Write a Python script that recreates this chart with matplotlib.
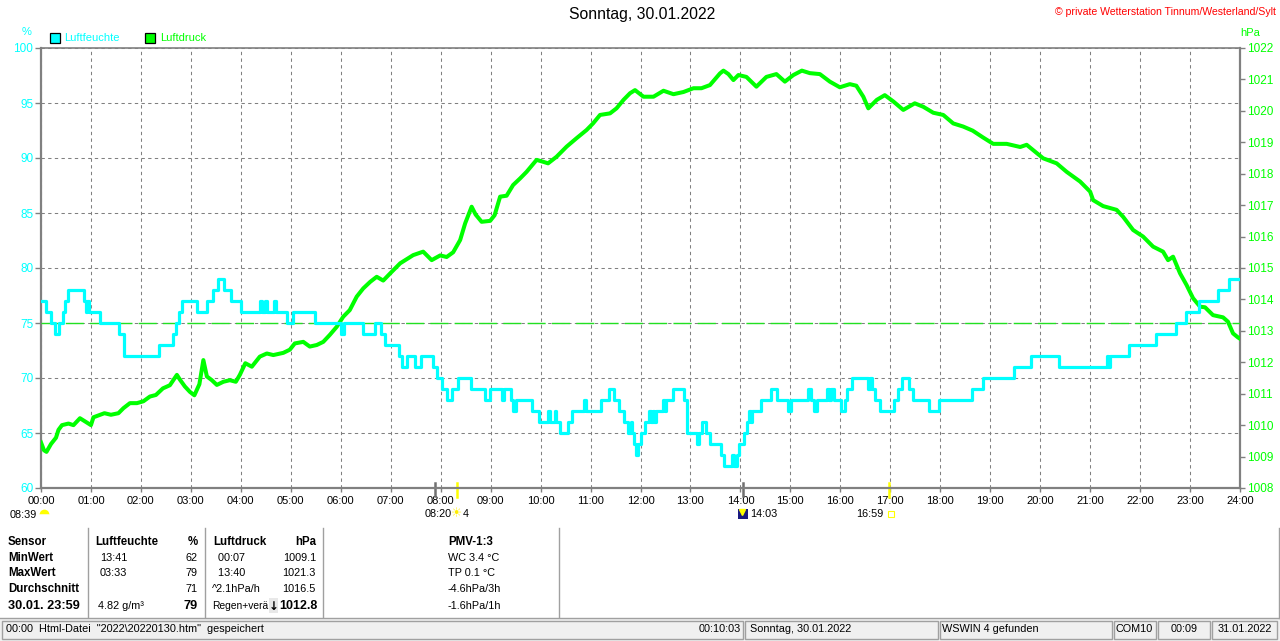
import matplotlib
matplotlib.use("Agg")
import matplotlib.pyplot as plt
from matplotlib.lines import Line2D
from matplotlib.patches import Rectangle

plt.rcParams["font.family"] = ["Liberation Sans", "DejaVu Sans"]

# ---- data ----
hum_hours = [0.00, 0.11, 0.21, 0.28, 0.36, 0.44, 0.48, 0.55, 0.86, 0.90, 0.93, 0.97,
             1.18, 1.57, 1.67, 2.36, 2.65, 2.70, 2.76, 2.82, 3.13, 3.32, 3.44, 3.54,
             3.66, 3.81, 4.01, 4.38, 4.43, 4.48, 4.52, 4.66, 4.70, 4.93, 5.04, 5.48,
             6.00, 6.06, 6.44, 6.68, 6.80, 6.88, 7.17, 7.23, 7.33, 7.48, 7.60, 7.84,
             7.92, 8.03, 8.12, 8.22, 8.34, 8.60, 8.88, 8.98, 9.23, 9.27, 9.40, 9.45,
             9.50, 9.83, 9.96, 10.14, 10.18, 10.28, 10.31, 10.38, 10.55, 10.62, 10.86,
             10.91, 11.20, 11.37, 11.47, 11.56, 11.67, 11.74, 11.80, 11.83, 11.87,
             11.90, 11.95, 12.02, 12.10, 12.17, 12.21, 12.25, 12.28, 12.31, 12.46,
             12.49, 12.51, 12.66, 12.88, 12.93, 13.14, 13.17, 13.24, 13.32, 13.40,
             13.62, 13.67, 13.84, 13.87, 13.93, 13.98, 14.08, 14.14, 14.18, 14.21,
             14.24, 14.42, 14.61, 14.74, 14.96, 15.01, 15.36, 15.42, 15.48, 15.53,
             15.74, 15.78, 15.82, 15.87, 16.02, 16.10, 16.14, 16.23, 16.55, 16.59,
             16.64, 16.70, 16.80, 17.08, 17.16, 17.23, 17.38, 17.46, 17.78, 17.97,
             18.64, 18.85, 19.48, 19.82, 20.38, 21.33, 21.36, 21.40, 21.78, 22.31,
             22.72, 22.92, 23.18, 23.55, 23.78, 24.00]
hum_values = [77, 76, 75, 74, 75, 76, 77, 78, 77, 76, 77, 76,
              75, 74, 72, 73, 74, 75, 76, 77, 76, 77, 78, 79,
              78, 77, 76, 77, 76, 77, 76, 77, 76, 75, 76, 75,
              74, 75, 74, 75, 74, 73, 72, 71, 72, 71, 72, 71,
              70, 69, 68, 69, 70, 69, 68, 69, 68, 69, 68, 67,
              68, 67, 66, 67, 66, 67, 66, 65, 66, 67, 68,
              67, 68, 69, 68, 67, 66, 65, 66, 65, 64,
              63, 64, 65, 66, 67, 66, 67, 66, 67, 68,
              67, 68, 69, 68, 65, 64, 65, 66, 65, 64,
              63, 62, 63, 62, 63, 64, 65, 66, 67, 66,
              67, 68, 69, 68, 67, 68, 69, 68, 67, 68,
              69, 68, 69, 68, 67, 68, 69, 70, 69, 70,
              69, 68, 67, 68, 69, 70, 69, 68, 67, 68,
              69, 70, 71, 72, 71, 72, 71, 72, 73, 74,
              75, 76, 77, 78, 79, 79]

pres_hours = [0.00, 0.06, 0.11, 0.20, 0.30, 0.35, 0.42, 0.55, 0.65, 0.78, 0.90, 1.00,
              1.05, 1.27, 1.40, 1.55, 1.65, 1.78, 1.92, 2.05, 2.18, 2.30, 2.44, 2.58,
              2.72, 2.78, 2.88, 2.98, 3.07, 3.17, 3.25, 3.32, 3.42, 3.52, 3.65, 3.78,
              3.90, 3.98, 4.09, 4.22, 4.38, 4.52, 4.65, 4.85, 4.98, 5.08, 5.25, 5.38,
              5.52, 5.65, 5.78, 5.92, 6.05, 6.18, 6.32, 6.45, 6.59, 6.72, 6.85, 6.99,
              7.19, 7.45, 7.65, 7.82, 7.99, 8.12, 8.25, 8.39, 8.49, 8.62, 8.70, 8.82,
              8.99, 9.08, 9.19, 9.32, 9.45, 9.59, 9.72, 9.92, 10.05, 10.15, 10.32,
              10.52, 10.72, 10.92, 11.05, 11.19, 11.39, 11.52, 11.66, 11.79, 11.89,
              12.06, 12.26, 12.46, 12.66, 12.86, 13.06, 13.22, 13.39, 13.59, 13.66,
              13.76, 13.86, 13.96, 14.12, 14.32, 14.52, 14.72, 14.89, 15.06, 15.23,
              15.39, 15.59, 15.79, 15.99, 16.19, 16.32, 16.46, 16.56, 16.73, 16.89,
              17.06, 17.26, 17.49, 17.66, 17.86, 18.06, 18.26, 18.46, 18.65, 18.85,
              19.06, 19.33, 19.60, 19.73, 19.86, 20.06, 20.33, 20.53, 20.80, 21.00,
              21.06, 21.26, 21.53, 21.66, 21.86, 22.06, 22.26, 22.46, 22.56, 22.66,
              22.80, 22.93, 23.06, 23.20, 23.30, 23.46, 23.66, 23.76, 23.86, 23.96,
              24.00]
pres_values = [1009.45, 1009.2, 1009.15, 1009.4, 1009.6, 1009.85, 1010.0, 1010.05,
               1010.0, 1010.22, 1010.1, 1010.0, 1010.25, 1010.38, 1010.33, 1010.38,
               1010.54, 1010.7, 1010.7, 1010.76, 1010.91, 1010.96, 1011.17, 1011.27,
               1011.6, 1011.45, 1011.23, 1011.06, 1010.95, 1011.3, 1012.07, 1011.55,
               1011.43, 1011.28, 1011.38, 1011.43, 1011.38, 1011.6, 1011.97, 1011.86,
               1012.18, 1012.28, 1012.23, 1012.3, 1012.4, 1012.6, 1012.65, 1012.5,
               1012.55, 1012.65, 1012.87, 1013.13, 1013.45, 1013.66, 1014.09, 1014.35,
               1014.56, 1014.72, 1014.6, 1014.83, 1015.15, 1015.41, 1015.52, 1015.25,
               1015.4, 1015.35, 1015.5, 1015.89, 1016.42, 1016.95, 1016.7, 1016.47,
               1016.5, 1016.68, 1017.27, 1017.3, 1017.64, 1017.85, 1018.06, 1018.44,
               1018.38, 1018.33, 1018.54, 1018.86, 1019.13, 1019.39, 1019.6, 1019.87,
               1019.92, 1020.08, 1020.35, 1020.56, 1020.66, 1020.45, 1020.45, 1020.64,
               1020.53, 1020.6, 1020.72, 1020.72, 1020.82, 1021.19, 1021.28, 1021.17,
               1020.98, 1021.14, 1021.08, 1020.77, 1021.08, 1021.17, 1020.93, 1021.14,
               1021.28, 1021.2, 1021.17, 1020.93, 1020.75, 1020.85, 1020.8, 1020.45,
               1020.08, 1020.35, 1020.5, 1020.3, 1020.03, 1020.24, 1020.13, 1019.94,
               1019.87, 1019.6, 1019.5, 1019.37, 1019.16, 1018.95, 1018.95, 1018.85,
               1018.92, 1018.75, 1018.49, 1018.33, 1018.06, 1017.75, 1017.43, 1017.16,
               1016.97, 1016.85, 1016.63, 1016.21, 1016.0, 1015.68, 1015.52, 1015.25,
               1015.36, 1014.83, 1014.46, 1014.04, 1013.77, 1013.75, 1013.5, 1013.43,
               1013.29, 1012.92, 1012.79, 1012.75]

normal_pressure = 1013.25
hour_ticks = list(range(25))
hour_labels = [f"{h:02d}:00" for h in hour_ticks]
hum_ticks = [60, 65, 70, 75, 80, 85, 90, 95, 100]
pres_ticks = list(range(1008, 1023))

sun_marks = [8.33, 16.98]   # sunrise / sunset
moon_marks = [7.88, 14.05]

CYAN = "#00ffff"
GREEN = "#00ff00"
GRAY = "#808080"

W, H = 1280, 641


def fx(x):
    return x / W


def fy(y):
    return 1 - y / H


fig = plt.figure(figsize=(W / 100, H / 100), dpi=100)
ax = fig.add_axes([fx(41), fy(488), (1240 - 41) / W, 440 / H])
axp = ax.twinx()
axh = ax.twinx()

# grid / frame on the base axes
ax.set_xlim(0, 24)
ax.set_ylim(60, 100)
ax.set_xticks(hour_ticks)
ax.set_xticklabels(hour_labels)
ax.set_yticks(hum_ticks)
ax.grid(True, color=GRAY, linestyle=(0, (3.2, 3.2)), linewidth=0.75)
for sp in ax.spines.values():
    sp.set_color(GRAY)
    sp.set_linewidth(1.6)
ax.spines["top"].set_linewidth(1.2)
ax.tick_params(axis="x", length=3, width=1, color=GRAY, labelsize=8, pad=3)
ax.tick_params(axis="y", length=4.5, width=1, color=GRAY, labelsize=8.5,
               labelcolor=CYAN, pad=1)

# pressure
axp.set_ylim(1008, 1022)
axp.set_yticks(pres_ticks)
axp.tick_params(axis="y", length=3.5, width=1, color=GRAY, labelsize=8.5,
                labelcolor=GREEN, pad=1.5)
axp.axhline(normal_pressure, color="#22e022", linewidth=1.0, dashes=(13, 4.5))
axp.plot(pres_hours, pres_values, color=GREEN, linewidth=2.9,
         solid_joinstyle="round")

# humidity on top
axh.set_ylim(60, 100)
axh.yaxis.set_visible(False)
axh.step(hum_hours, hum_values, where="post", color=CYAN, linewidth=2.3)

for a in (axp, axh):
    a.patch.set_visible(False)
    for sp in a.spines.values():
        sp.set_visible(False)

# sunrise / sunset and moon ticks below the axis
for h in moon_marks:
    ax.plot([h, h], [0.012, -0.018], transform=ax.get_xaxis_transform(),
            color="#707070", linewidth=1.8, clip_on=False)
for h in sun_marks:
    ax.plot([h, h], [0.012, -0.02], transform=ax.get_xaxis_transform(),
            color="#ffff00", linewidth=1.8, clip_on=False)


def txt(x, y, s, **kw):
    kw.setdefault("va", "center")
    kw.setdefault("fontsize", 7.8)
    fig.text(fx(x), fy(y), s, **kw)


def mark(x, y, **kw):
    fig.add_artist(Line2D([fx(x)], [fy(y)], linestyle="none", **kw))


def box(x0, y0, x1, y1, **kw):
    fig.add_artist(Rectangle((fx(x0), fy(y1)), (x1 - x0) / W, (y1 - y0) / H,
                             transform=fig.transFigure, **kw))


def vline(x, y0, y1, **kw):
    fig.add_artist(Line2D([fx(x), fx(x)], [fy(y0), fy(y1)], **kw))


# header
txt(642, 15, "Sonntag, 30.01.2022", ha="center", fontsize=11.3)
txt(1276, 12, "\u00a9 private Wetterstation Tinnum/Westerland/Sylt", ha="right",
    fontsize=7.6, color="#ff0000")
txt(27, 32, "%", ha="center", fontsize=8, color=CYAN)
txt(1240, 33, "hPa", ha="left", fontsize=8, color=GREEN)

box(50, 33, 60, 43, facecolor=CYAN, edgecolor="black", linewidth=0.9)
txt(64, 38, "Luftfeuchte", color=CYAN, fontsize=8)
box(145, 33, 155, 43, facecolor=GREEN, edgecolor="black", linewidth=0.9)
txt(160, 38, "Luftdruck", color=GREEN, fontsize=8)

# sun / moon times under the x axis
txt(37, 515, "08:39", ha="right")
mark(44, 514, marker="o", markersize=7, fillstyle="top",
     markerfacecolor="#ffff00", markerfacecoloralt="white",
     markeredgecolor="none")
txt(452, 514, "08:20", ha="right")
txt(457, 514, "\u2600", ha="center", fontsize=9, color="#ffee00",
    family=["DejaVu Sans"])
txt(463, 514, "4")
box(738, 509, 748, 519, facecolor="#1a1a80", edgecolor="none")
mark(742, 512, marker="v", markersize=4, color="#ffff00")
txt(750, 514, "14:03")
txt(883, 514, "16:59", ha="right")
mark(891, 514, marker="s", markersize=4, markerfacecolor="none",
     markeredgecolor="#ffff00", markeredgewidth=0.8)

# statistics table
rows_y = [542, 558, 573, 589, 606]
sensor_col = ["Sensor", "MinWert", "MaxWert", "Durchschnitt"]
for yy, s in zip(rows_y, sensor_col):
    txt(8, yy, s, fontweight="bold", fontsize=8.3)
txt(8, rows_y[4], "30.01. 23:59", fontweight="bold", fontsize=9.2)

txt(95, rows_y[0], "Luftfeuchte", fontweight="bold", fontsize=8.3)
txt(198, rows_y[0], "%", ha="right", fontweight="bold", fontsize=8.3)
hum_time = ["13:41", "03:33", ""]
hum_stat = ["62", "79", "71"]
for yy, t, v in zip(rows_y[1:4], hum_time, hum_stat):
    txt(100, yy, t)
    txt(198, yy, v, ha="right")
txt(98, rows_y[4], "4.82 g/m\u00b3")
txt(198, rows_y[4], "79", ha="right", fontweight="bold", fontsize=9.2)

txt(213, rows_y[0], "Luftdruck", fontweight="bold", fontsize=8.3)
txt(316, rows_y[0], "hPa", ha="right", fontweight="bold", fontsize=8.3)
pres_time = ["  00:07", "  13:40", "^2.1hPa/h"]
pres_stat = ["1009.1", "1021.3", "1016.5"]
for yy, t, v in zip(rows_y[1:4], pres_time, pres_stat):
    txt(212, yy, t)
    txt(316, yy, v, ha="right")
txt(212, rows_y[4], "Regen+ver\u00e4", fontsize=7.4)
box(269, 598, 278, 613, facecolor="#e8e8e8", edgecolor="none")
txt(274, rows_y[4], "\u2193", ha="center", fontweight="bold", fontsize=8.5,
    family=["DejaVu Sans"])
txt(317, rows_y[4], "1012.8", ha="right", fontweight="bold", fontsize=9.0)

txt(448, rows_y[0], "PMV-1:3", fontweight="bold", fontsize=8.3)
pmv_lines = ["WC 3.4 \u00b0C", "TP 0.1 \u00b0C", "-4.6hPa/3h", "-1.6hPa/1h"]
for yy, s in zip(rows_y[1:], pmv_lines):
    txt(448, yy, s)

for xx in (88, 205, 323, 559):
    vline(xx, 528, 617, color="#a0a0a0", linewidth=1)
vline(1279, 528, 618, color="#a0a0a0", linewidth=1)

# status bar
box(0, 618, 1280, 641, facecolor="#f0f0f0", edgecolor="none")
fig.add_artist(Line2D([0, 1], [fy(618), fy(618)], color="#a0a0a0", linewidth=1))
panels = [(2, 743), (745, 938), (940, 1112), (1114, 1156), (1158, 1210), (1212, 1277)]
for x0, x1 in panels:
    box(x0, 621, x1, 639, facecolor="#f0f0f0", edgecolor="#a0a0a0", linewidth=1)
txt(6, 629, "00:00  Html-Datei  \"2022\\20220130.htm\"  gespeichert")
txt(741, 629, "00:10:03", ha="right")
txt(750, 629, "Sonntag, 30.01.2022")
txt(942, 629, "WSWIN 4 gefunden")
txt(1116, 629, "COM10")
txt(1184, 629, "00:09", ha="center")
txt(1218, 629, "31.01.2022")

fig.savefig("out.png", dpi=100)
